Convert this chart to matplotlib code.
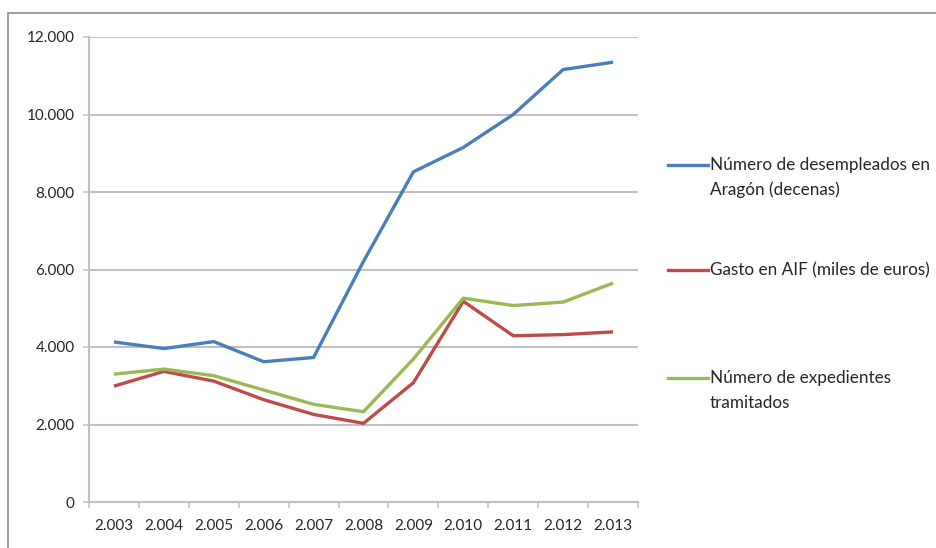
import matplotlib
matplotlib.use('Agg')
import matplotlib.pyplot as plt
from matplotlib.lines import Line2D
from matplotlib.patches import Rectangle
import numpy as np

# data
years = ['2.003', '2.004', '2.005', '2.006', '2.007', '2.008',
         '2.009', '2.010', '2.011', '2.012', '2.013']
desempleados = [4130, 3960, 4140, 3620, 3730, 6210, 8520, 9150, 10000, 11160, 11350]
gasto_aif = [2990, 3370, 3120, 2640, 2260, 2030, 3080, 5180, 4290, 4320, 4390]
expedientes = [3300, 3430, 3260, 2890, 2520, 2330, 3690, 5260, 5070, 5160, 5650]
yticks = [0, 2000, 4000, 6000, 8000, 10000, 12000]
ytick_labels = ['0', '2.000', '4.000', '6.000', '8.000', '10.000', '12.000']

labels = ['Número de desempleados en\nAragón (decenas)',
          'Gasto en AIF (miles de euros)',
          'Número de expedientes\ntramitados']
colors = ['#4a7ebb', '#be4b48', '#98b954']

plt.rcParams['font.family'] = ['Lato', 'DejaVu Sans']

W, H = 936, 548
fig = plt.figure(figsize=(W / 100, H / 100), dpi=100)
ax = fig.add_axes([89 / W, 1 - 502 / H, (638 - 89) / W, (502 - 37) / H])

x = np.arange(len(years))
for series, c in zip([desempleados, gasto_aif, expedientes], colors):
    ax.plot(x, series, color=c, lw=2.4, solid_joinstyle='round', solid_capstyle='butt')

ax.set_xlim(-0.5, len(years) - 0.5)
ax.set_ylim(0, 12000)
ax.set_yticks(yticks)
ax.set_yticklabels(ytick_labels)
ax.set_xticks(x)
ax.set_xticklabels(years)
ax.set_xticks(np.arange(-0.5, len(years)), minor=True)

grid_c = '#c0c0c0'
txt_c = '#262626'
ax.grid(axis='y', color=grid_c, lw=1.5)
ax.set_axisbelow(True)
for s in ['top', 'right']:
    ax.spines[s].set_visible(False)
for s in ['left', 'bottom']:
    ax.spines[s].set_color(grid_c)
    ax.spines[s].set_linewidth(1.5)

ax.tick_params(axis='y', length=4.5, width=1.1, color=grid_c, labelsize=11,
               labelcolor=txt_c, pad=6)
ax.tick_params(axis='x', which='major', length=0, labelsize=11,
               labelcolor=txt_c, pad=12)
ax.tick_params(axis='x', which='minor', length=4.5, width=1.1, color=grid_c)

# legend drawn on the right, handle level with the first text line
leg_y = [165, 270, 378]
for lab, c, yy in zip(labels, colors, leg_y):
    fy = 1 - yy / H
    fig.add_artist(Line2D([668 / W, 708 / W], [fy, fy], color=c, lw=2.4,
                          transform=fig.transFigure))
    for k, line in enumerate(lab.split('\n')):
        fig.text(710 / W, 1 - (yy + 25 * k) / H, line, fontsize=12.3,
                 color=txt_c, va='center', ha='left')

# outer frame (top and left edges visible)
fig.add_artist(Rectangle((8 / W, -0.1), 1.0, 1 - 13 / H + 0.1, fill=False,
                         edgecolor='#8c8c8c', lw=1.2, transform=fig.transFigure))

fig.savefig('out.png', dpi=100)
